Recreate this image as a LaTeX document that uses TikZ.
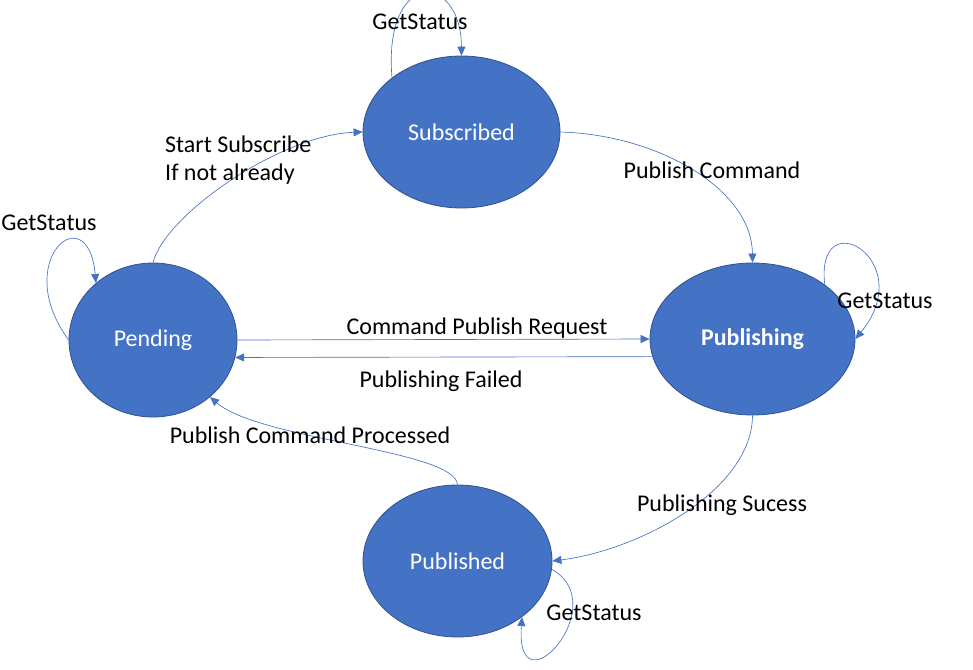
\documentclass[tikz,border=0pt]{standalone}
\usepackage{fontspec}
\setmainfont{Carlito}
\usetikzlibrary{shapes.geometric,arrows.meta}
\definecolor{nodeblue}{HTML}{4472C4}
\definecolor{nodeedge}{HTML}{2F528F}
\definecolor{linkblue}{HTML}{4472C4}
\begin{document}
\begin{tikzpicture}[x=1pt,y=-1pt,
  state/.style={ellipse, fill=nodeblue, draw=nodeedge, line width=0.8pt, inner sep=0pt, text=white, font=\fontsize{24}{28}\selectfont},
  link/.style={draw=linkblue, line width=0.65pt, -{Triangle[length=9pt,width=8pt]}},
  lbl/.style={inner sep=0pt, anchor=base, font=\fontsize{24}{28}\selectfont},
  lblw/.style={inner sep=0pt, anchor=base west, font=\fontsize{24}{28}\selectfont}]
\useasboundingbox (0,0) rectangle (973,669);
\node[state, minimum width=197pt, minimum height=152pt] (sub) at (461.5,132) {Subscribed};
\node[state, minimum width=168pt, minimum height=154pt] (pen) at (153,340) {Pending};
\node[state, minimum width=205pt, minimum height=152pt, font=\fontsize{24}{28}\selectfont\bfseries] (pub) at (752.5,339) {Publishing};
\node[state, minimum width=189pt, minimum height=152pt] (pbd) at (457.5,561) {Published};

\draw[link] (sub.142) .. controls (383,-32) and (461,-28) .. (sub.north);
\draw[link] (pen.west) .. controls (10,260) and (88,195) .. (pen.135.5);
\draw[link] (pub.37.7) .. controls (815,200) and (920,260) .. (pub.east);
\draw[link] (pbd.-5) .. controls (615,605) and (515,715) .. (pbd.-41);

\draw[link] (pen.north) .. controls (165,215) and (280,135) .. (sub.west);
\draw[link] (sub.east) .. controls (660,135) and (752,190) .. (pub.north);
\draw[link] (pub.south) .. controls (752,490) and (640,550) .. (pbd.east);
\draw[link] (pbd.north) .. controls (455,450) and (260,440) .. (pen.-45);
\draw[link] (pen.east) -- (pub.west);
\draw[link] (pub.190.8) -- (pen.-12.4);

\node[lbl] (l1) at (420,30) {GetStatus};
\node[lblw] (l2a) at (165,152) {Start Subscribe};
\node[lblw] (l2b) at (165,180) {If not already};
\node[lbl] (l3) at (712,178) {Publish Command};
\node[lbl] (l4) at (49,230) {GetStatus};
\node[lbl] (l5) at (477,334) {Command Publish Request};
\node[lbl] (l6) at (885,308) {GetStatus};
\node[lbl] (l7) at (441,387) {Publishing Failed};
\node[lbl] (l8) at (310,443) {Publish Command Processed};
\node[lbl] (l9) at (722,511) {Publishing Sucess};
\node[lbl] (l10) at (594,620) {GetStatus};
\end{tikzpicture}
\end{document}
